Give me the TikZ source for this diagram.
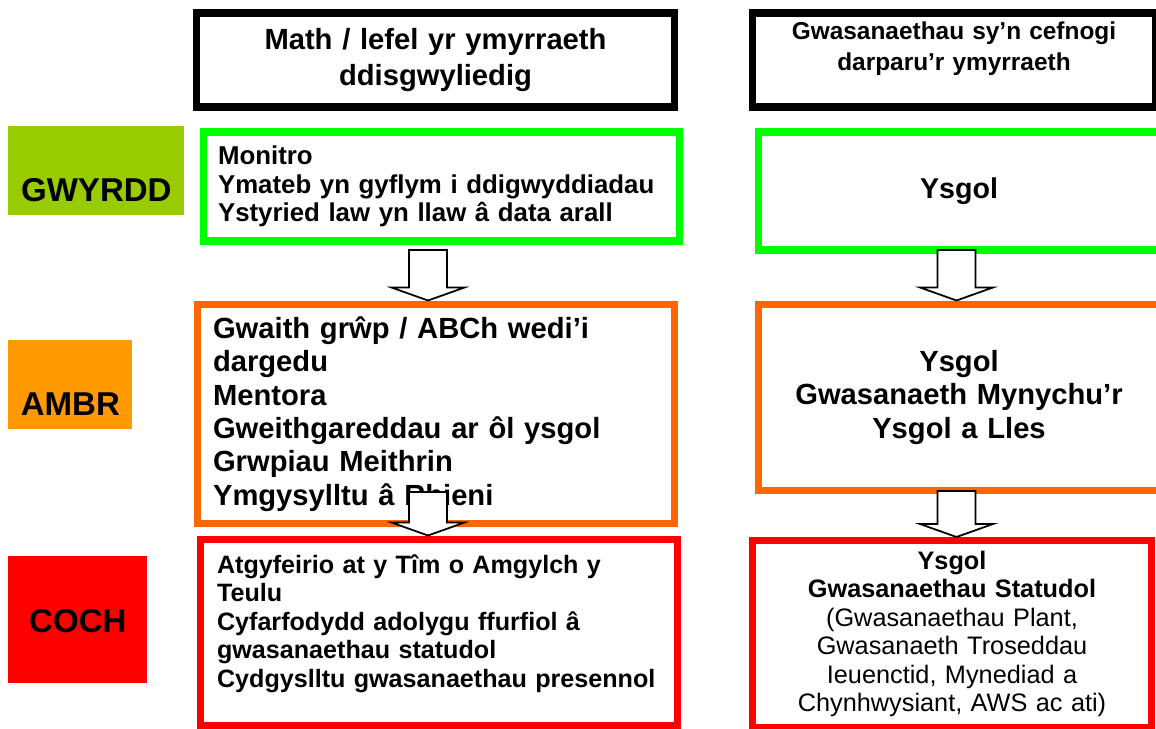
\documentclass[tikz,border=0pt]{standalone}
\usepackage{fontspec}
\setmainfont{Liberation Sans}
\usepackage{tikz}
\usetikzlibrary{calc}
\definecolor{tagGreen}{HTML}{99CC00}
\definecolor{tagAmber}{HTML}{FF9900}
\definecolor{tagRed}{HTML}{FF0000}
\definecolor{edgeGreen}{HTML}{00FF00}
\definecolor{edgeAmber}{HTML}{FF6600}
\definecolor{edgeRed}{HTML}{FF0000}
\tikzset{
  levelbox/.style={rectangle,inner sep=0pt,anchor=north west,
    font=\fontsize{18.8}{22}\selectfont\bfseries},
  panel/.style={rectangle,line width=4pt,fill=white,inner sep=2pt},
  leftpanel/.style={panel,align=left},
  rightpanel/.style={panel,align=center},
  blockarrow/.style={draw=black,fill=white,line width=1pt,line join=miter}
}
% hollow down arrow: #1 start coordinate, #2 tip coordinate
\newcommand{\blockdown}[2]{%
  \draw[blockarrow] ($(#1)+(-19,0)$) -- ($(#1)+(19,0)$) -- ($(#2)+(19,-13)$)
    -- ($(#2)+(36.5,-13)$) -- (#2) -- ($(#2)+(-36.5,-13)$)
    -- ($(#2)+(-19,-13)$) -- cycle;
}

\begin{document}
\begin{tikzpicture}[x=0.02cm,y=-0.02cm]
  \useasboundingbox (0,0) rectangle (1156,729);
  % level tags
  \node[levelbox,fill=tagGreen,minimum width=3.52cm,text height=1.5cm,text depth=0.28cm] (gwyrdd) at (8,126) {GWYRDD};
  \node[levelbox,fill=tagAmber,minimum width=2.48cm,text height=1.5cm,text depth=0.28cm] (ambr) at (8,340) {AMBR};
  \node[levelbox,fill=tagRed,minimum width=2.78cm,text height=1.53cm,text depth=1.01cm] (coch) at (8,555.5) {COCH};
  % column headings
  \node[rightpanel,draw=black,minimum width=9.58cm,minimum height=1.88cm,text width=9cm,
    font=\fontsize{16.6}{20.5}\selectfont\bfseries] (hdrL) at (435.5,60) {Math / lefel yr ymyrraeth\\ddisgwyliedig};
  \node[rightpanel,draw=black,minimum width=8.08cm,minimum height=1.88cm,text width=7.6cm,
    text height=0.4cm,text depth=1.2cm,
    font=\fontsize{13.9}{17.3}\selectfont\bfseries] (hdrR) at (954,60) {Gwasanaethau sy’n cefnogi\\darparu’r ymyrraeth};
  % left column
  \node[leftpanel,draw=edgeGreen,minimum width=9.54cm,minimum height=2.18cm,text width=8.94cm,
    font=\fontsize{14.7}{16.3}\selectfont\bfseries] (grnL) at (441.5,186.5)
    {Monitro\\Ymateb yn gyflym i ddigwyddiadau\\Ystyried law yn llaw â data arall};
  \node[leftpanel,draw=edgeAmber,minimum width=9.56cm,minimum height=4.4cm,text width=8.92cm,
    font=\fontsize{16.6}{19}\selectfont\bfseries] (ambL) at (436,414)
    {Gwaith grŵp / ABCh wedi’i\\dargedu\\Mentora\\Gweithgareddau ar ôl ysgol\\Grwpiau Meithrin\\Ymgysylltu â Rhieni};
  \node[leftpanel,draw=edgeRed,minimum width=9.56cm,minimum height=3.74cm,text width=8.88cm,
    text height=0.4cm,text depth=2.78cm,
    font=\fontsize{14.3}{16.3}\selectfont\bfseries] (redL) at (439,632.5)
    {Atgyfeirio at y Tîm o Amgylch y\\Teulu\\Cyfarfodydd adolygu ffurfiol â\\gwasanaethau statudol\\Cydgyslltu gwasanaethau presennol};
  % right column
  \node[rightpanel,draw=edgeGreen,minimum width=8.04cm,minimum height=2.36cm,text width=7.6cm,
    font=\fontsize{16.3}{19}\selectfont\bfseries] (grnR) at (959,191) {Ysgol};
  \node[rightpanel,draw=edgeAmber,minimum width=8.04cm,minimum height=3.74cm,text width=7.6cm,
    font=\fontsize{16.6}{19}\selectfont\bfseries] (ambR) at (959,397.5)
    {Ysgol\\Gwasanaeth Mynychu’r\\Ysgol a Lles};
  \node[rightpanel,draw=edgeRed,minimum width=8cm,minimum height=3.74cm,text width=7.6cm,
    font=\fontsize{14.4}{16.2}\selectfont] (redR) at (952,634)
    {\textbf{Ysgol}\\\textbf{Gwasanaethau Statudol}\\(Gwasanaethau Plant,\\Gwasanaeth Troseddau\\Ieuenctid, Mynediad a\\Chynhwysiant, AWS ac ati)};
  % arrows between levels
  \coordinate (sL1) at (428,250);
  \coordinate (tL1) at (ambL.north -| sL1);
  \coordinate (sL2) at (428,492);
  \coordinate (tL2) at (redL.north -| sL2);
  \coordinate (sR1) at (956.5,250);
  \coordinate (tR1) at (ambR.north -| sR1);
  \coordinate (sR2) at (956.5,491);
  \coordinate (tR2) at (redR.north -| sR2);
  \blockdown{sL1}{tL1}
  \blockdown{sL2}{tL2}
  \blockdown{sR1}{tR1}
  \blockdown{sR2}{tR2}
\end{tikzpicture}
\end{document}
